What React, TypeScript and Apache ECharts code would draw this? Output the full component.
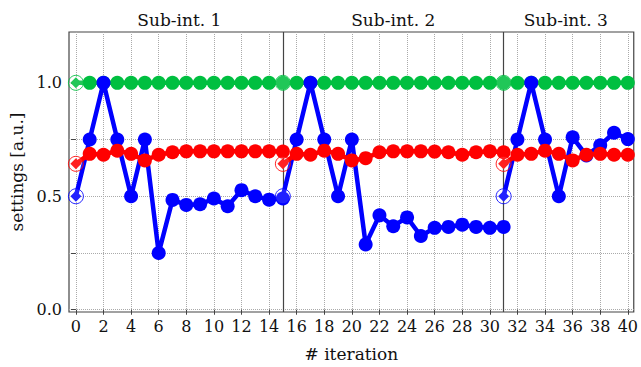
import React, { useEffect, useRef } from "react";
import * as echarts from "echarts";

// Sub-interval layout: each sub-interval starts at one iteration and the next starts where it ends
const SUBINT_TITLES = ["Sub-int. 1", "Sub-int. 2", "Sub-int. 3"];
const SUBINT_STARTS = [0, 15, 31];
const LAST_ITERATION = 40;

// Settings per sub-interval (first value is the initial setting of that sub-interval)
const BLUE_1 = [0.5, 0.75, 1.0, 0.75, 0.5, 0.75, 0.25, 0.484, 0.462, 0.465, 0.49, 0.456, 0.527, 0.5, 0.485, 0.49];
const BLUE_2 = [0.5, 0.75, 1.0, 0.75, 0.5, 0.75, 0.288, 0.416, 0.368, 0.407, 0.325, 0.361, 0.365, 0.375, 0.365, 0.361, 0.365];
const BLUE_3 = [0.5, 0.75, 1.0, 0.75, 0.5, 0.76, 0.68, 0.725, 0.78, 0.752];

const RED_1 = [0.643, 0.687, 0.683, 0.701, 0.687, 0.658, 0.683, 0.694, 0.698, 0.698, 0.698, 0.698, 0.698, 0.698, 0.698, 0.697];
const RED_2 = [0.643, 0.687, 0.683, 0.701, 0.687, 0.658, 0.668, 0.694, 0.698, 0.698, 0.698, 0.697, 0.694, 0.683, 0.694, 0.698, 0.694];
const RED_3 = [0.643, 0.683, 0.687, 0.701, 0.687, 0.658, 0.683, 0.687, 0.683, 0.683];

const GREEN_1 = [1, 1, 1, 1, 1, 1, 1, 1, 1, 1, 1, 1, 1, 1, 1, 1];
const GREEN_2 = [1, 1, 1, 1, 1, 1, 1, 1, 1, 1, 1, 1, 1, 1, 1, 1, 1];
const GREEN_3 = [1, 1, 1, 1, 1, 1, 1, 1, 1, 1];

const X_TICKS = [0, 2, 4, 6, 8, 10, 12, 14, 16, 18, 20, 22, 24, 26, 28, 30, 32, 34, 36, 38, 40];
const Y_TICKS = [0, 0.25, 0.5, 0.75, 1.0];
const Y_LABELS = [0, 0.5, 1.0];

const BLUE = "#0000ff";
const RED = "#ff0000";
const GREEN = "#00bf40";
const FONT = "DejaVu Serif";

function lineSeries(color: string, start: number, values: number[], z: number) {
  return {
    type: "line",
    z,
    symbol: "circle",
    symbolSize: 14,
    lineStyle: { color, width: 4.5 },
    itemStyle: { color },
    data: values.map((v, i) =>
      i === 0
        ? { value: [start + i, v], symbol: "diamond", symbolSize: 11 }
        : [start + i, v]
    ),
  };
}

function startRings(color: string, groups: number[][], z: number) {
  return {
    type: "scatter",
    z,
    symbol: "circle",
    symbolSize: 15,
    itemStyle: { color: "rgba(255,255,255,0.15)", borderColor: color, borderWidth: 1, opacity: 0.85 },
    data: groups.map((g, k) => [SUBINT_STARTS[k], g[0]]),
  };
}

export default function App() {
  const ref = useRef<HTMLDivElement>(null);

  useEffect(() => {
    if (!ref.current) return;
    const chart = echarts.init(ref.current, undefined, { renderer: "svg" });

    const subEnds = [...SUBINT_STARTS.slice(1), LAST_ITERATION];
    const areas = SUBINT_TITLES.map((t, k) => [
      { xAxis: SUBINT_STARTS[k], name: t },
      { xAxis: subEnds[k] },
    ]);

    const greens = [GREEN_1, GREEN_2, GREEN_3];
    const blues = [BLUE_1, BLUE_2, BLUE_3];
    const reds = [RED_1, RED_2, RED_3];

    const series: any[] = [];
    greens.forEach((g, k) => series.push(lineSeries(GREEN, SUBINT_STARTS[k], g, 2)));
    blues.forEach((g, k) => series.push(lineSeries(BLUE, SUBINT_STARTS[k], g, 3)));
    reds.forEach((g, k) => series.push(lineSeries(RED, SUBINT_STARTS[k], g, 4)));
    series.push(startRings(GREEN, greens, 5));
    series.push(startRings(BLUE, blues, 5));
    series.push(startRings(RED, reds, 5));

    // sub-interval boundaries and titles
    series[0].markLine = {
      silent: true,
      symbol: "none",
      label: { show: false },
      lineStyle: { color: "#444", type: "solid", width: 1.2 },
      data: SUBINT_STARTS.slice(1).map((s) => ({ xAxis: s })),
      z: 1,
    };
    series[0].markArea = {
      silent: true,
      itemStyle: { color: "rgba(0,0,0,0)" },
      label: {
        show: true,
        position: "top",
        distance: 4,
        fontFamily: FONT,
        fontSize: 17,
        color: "#111",
      },
      data: areas,
    };

    chart.setOption({
      animation: false,
      textStyle: { fontFamily: FONT },
      grid: {
        left: 69,
        right: 6,
        top: 32,
        bottom: 54,
        show: true,
        borderColor: "#444",
        borderWidth: 1.2,
        backgroundColor: "transparent",
      },
      xAxis: {
        type: "value",
        min: -0.5,
        max: 40.43,
        name: "# iteration",
        nameLocation: "middle",
        nameGap: 33,
        nameTextStyle: { fontFamily: FONT, fontSize: 17, color: "#111" },
        axisLine: { show: false },
        axisTick: { show: true, customValues: X_TICKS, length: 5, lineStyle: { color: "#444" } },
        axisLabel: {
          customValues: X_TICKS,
          fontFamily: FONT,
          fontSize: 16,
          color: "#111",
          margin: 6,
        },
        splitLine: { show: true, lineStyle: { color: "#aaa", type: "dotted", width: 1 } },
      },
      yAxis: {
        type: "value",
        min: -0.01,
        max: 1.224,
        name: "settings [a.u.]",
        nameLocation: "middle",
        nameGap: 40,
        nameTextStyle: { fontFamily: FONT, fontSize: 17, color: "#111" },
        axisLine: { show: false },
        axisTick: { show: true, customValues: Y_TICKS, length: 5, lineStyle: { color: "#444" } },
        axisLabel: {
          customValues: Y_LABELS,
          formatter: (v: number) => v.toFixed(1),
          fontFamily: FONT,
          fontSize: 16,
          color: "#111",
          margin: 7,
        },
        splitLine: { show: true, lineStyle: { color: "#aaa", type: "dotted", width: 1 } },
      },
      series,
    });

    return () => chart.dispose();
  }, []);

  return (
    <div
      ref={ref}
      style={{ position: "fixed", left: 0, top: 0, width: 641, height: 367, background: "#fff" }}
    />
  );
}
